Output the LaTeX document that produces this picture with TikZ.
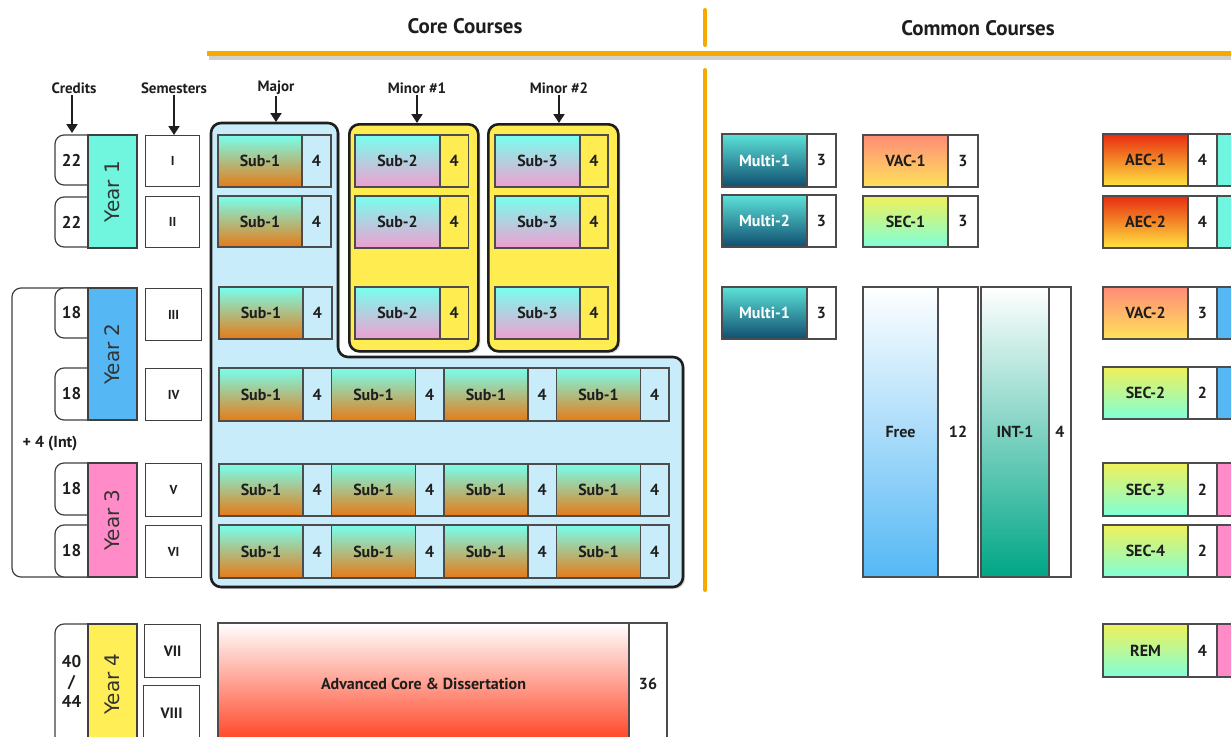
\documentclass[tikz,border=0pt]{standalone}
\usepackage{fontspec}
\setmainfont{PT Sans}
\newfontfamily\yearfont{DejaVu Sans}
\usetikzlibrary{arrows.meta,shadows}
\definecolor{orl}{RGB}{246,170,0}
\definecolor{majbg}{RGB}{200,236,250}
\definecolor{minbg}{RGB}{255,236,80}
\definecolor{cyT}{RGB}{120,255,238}
\definecolor{orM}{RGB}{170,160,120}
\definecolor{orB}{RGB}{230,122,22}
\definecolor{pkB}{RGB}{240,158,208}
\definecolor{yrone}{RGB}{112,245,222}
\definecolor{yrtwo}{RGB}{85,184,245}
\definecolor{yrthree}{RGB}{255,140,200}
\definecolor{yrfour}{RGB}{255,238,85}
\definecolor{muT}{RGB}{92,226,216}
\definecolor{muB}{RGB}{16,78,112}
\definecolor{vaT}{RGB}{255,140,120}
\definecolor{vaB}{RGB}{255,226,90}
\definecolor{seT}{RGB}{240,240,90}
\definecolor{seB}{RGB}{128,255,216}
\definecolor{aeT}{RGB}{232,44,16}
\definecolor{aeB}{RGB}{255,228,64}
\definecolor{frB}{RGB}{85,184,245}
\definecolor{inB}{RGB}{0,166,134}
\definecolor{adB}{RGB}{255,62,30}
\definecolor{ink}{RGB}{30,30,30}
\newcommand\mkcell[9]{%
  \node[cellbox,#7,minimum width=#4pt,minimum height=#6pt,anchor=north west] (#1) at (#2,#3) {#8};
  \node[cellbox,#7n,minimum width=#5pt,minimum height=#6pt,anchor=west] (#1n) at (#1.east) {#9};}
\begin{document}
\begin{tikzpicture}[x=1pt,y=-1pt,
  title/.style={font=\bfseries\fontsize{21}{21}\selectfont,text=ink},
  hdr/.style={font=\bfseries\fontsize{15}{15}\selectfont,text=ink,inner sep=1pt},
  harr/.style={line width=2pt,draw=ink,-{Triangle[width=11pt,length=9pt]}},
  cellbox/.style={draw=black!70,line width=1.1pt,inner sep=0pt,outer sep=0pt,
    font=\bfseries\fontsize{16}{16}\selectfont,text=ink},
  thinb/.style={draw=black!75,line width=1.2pt},
  sembox/.style={thinb,fill=white,inner sep=0pt,anchor=north west,
    font=\bfseries\fontsize{13}{13}\selectfont,text=ink},
  yearbox/.style={thinb,rotate=90,inner sep=0pt,minimum height=49pt,
    font=\yearfont\fontsize{20}{20}\selectfont,text=black!80},
  credtxt/.style={font=\bfseries\fontsize{17}{17}\selectfont,text=ink,inner sep=0pt},
  shad/.style={drop shadow={shadow xshift=2pt,shadow yshift=-2pt,opacity=.3}},
  maj/.style={top color=cyT,middle color=orM,bottom color=orB}, majn/.style={fill=majbg},
  minr/.style={top color=cyT,bottom color=pkB}, minrn/.style={fill=minbg},
  mul/.style={top color=muT,bottom color=muB,text=white}, muln/.style={fill=white},
  vacc/.style={top color=vaT,bottom color=vaB}, vaccn/.style={fill=white},
  secc/.style={top color=seT,bottom color=seB}, seccn/.style={fill=white},
  aecc/.style={top color=aeT,bottom color=aeB}, aeccn/.style={fill=white},
  freec/.style={top color=white,bottom color=frB}, freecn/.style={fill=white},
  intc/.style={top color=white,bottom color=inB}, intcn/.style={fill=white},
  advc/.style={top color=white,middle color=adB!45,bottom color=adB}, advcn/.style={fill=white},
  strip/.style={cellbox,minimum width=30pt,anchor=west}
]
\useasboundingbox (0,0) rectangle (1231,736);
\clip (0,0) rectangle (1231,736);
\fill[white] (0,0) rectangle (1231,736);

% ---- orange dividers
\draw[black!30,line width=4pt,opacity=.6] (209,57.5) -- (1240,57.5);
\draw[orl,line width=5pt] (207,53) -- (1240,53);
\draw[orl,line width=4pt,line cap=round] (705,10) -- (705,45);
\draw[orl,line width=4pt,line cap=round] (705,70) -- (705,590);

\node[title] (core) at (465,26) {Core Courses};
\node[title] (common) at (978,28) {Common Courses};

% ---- column labels
\node[hdr] (credits) at (74,88) {Credits};
\node[hdr] (semesters) at (174,88) {Semesters};
\node[hdr] (major) at (276,88) {Major};
\node[hdr] (minorA) at (417,88) {Minor \#1};
\node[hdr] (minorB) at (559,88) {Minor \#2};

% ---- bracket for years 2-3
\draw[thinb,fill=white,rounded corners=9pt] (90,288) -- (12,288) -- (12,577) -- (90,577);
\node[font=\bfseries\fontsize{16}{16}\selectfont,text=ink,fill=white,inner sep=1pt] (plusint) at (50,444) {+ 4 (Int)};

% ---- credit boxes
\foreach \nm/\ya/\yb/\tx in {cra/135/185/22, crb/197/247/22, crc/288/338/18, crd/368/420/18, cre/463/515/18, crf/525/577/18}{
  \draw[thinb,fill=white,rounded corners=9pt] (100,\ya) -- (55,\ya) -- (55,\yb) -- (100,\yb) -- cycle;
  \node[credtxt] (\nm) at (71.5,{(\ya+\yb)/2}) {\tx};
}
\draw[thinb,fill=white,rounded corners=9pt] (100,624) -- (55,624) -- (55,760) -- (100,760) -- cycle;
\node[credtxt,align=center,font=\bfseries\fontsize{17}{20}\selectfont] (crg) at (71.5,681) {40\\/\\44};
\coordinate (crtop) at (72,133);

% ---- year boxes
\node[yearbox,fill=yrone,minimum width=113pt] (yone) at (112.5,191.5) {Year 1};
\node[yearbox,fill=yrtwo,minimum width=132pt] (ytwo) at (112.5,354) {Year 2};
\node[yearbox,fill=yrthree,minimum width=114pt] (ythree) at (112.5,520) {Year 3};
\node[yearbox,fill=yrfour,minimum width=120pt] (yfour) at (112.5,684) {Year 4};

% ---- semester boxes
\node[sembox,minimum width=54pt,minimum height=51pt] (sa) at (145,135) {I};
\node[sembox,minimum width=54pt,minimum height=51pt] (sb) at (145,196) {II};
\node[sembox,minimum width=56pt,minimum height=52pt] (sc) at (145,288) {III};
\node[sembox,minimum width=56pt,minimum height=52pt] (sd) at (145,368) {IV};
\node[sembox,minimum width=56pt,minimum height=53pt] (se) at (145,463) {V};
\node[sembox,minimum width=56pt,minimum height=52pt] (sf) at (145,525) {VI};
\node[sembox,minimum width=56pt,minimum height=53pt,font=\bfseries\fontsize{15}{15}\selectfont] (sg) at (144,624) {VII};
\node[sembox,minimum width=56pt,minimum height=56pt,font=\bfseries\fontsize{15}{15}\selectfont] (sh) at (143,685) {VIII};

% ---- major block
\draw[shad,draw=ink,line width=2.6pt,fill=majbg,rounded corners=10pt]
  (211,123) -- (338,123) -- (338,357) -- (683,357) -- (683,587) -- (211,587) -- cycle;
\coordinate (majtop) at (276,122);

% ---- minor blocks
\node[shad,draw=ink,line width=2.6pt,fill=minbg,rounded corners=10pt,minimum width=129pt,minimum height=227pt,anchor=north west,inner sep=0pt] (mnA) at (348,123) {};
\node[shad,draw=ink,line width=2.6pt,fill=minbg,rounded corners=10pt,minimum width=130pt,minimum height=227pt,anchor=north west,inner sep=0pt] (mnB) at (487,123) {};

% ---- header arrows
\draw[harr] (credits.south -| crtop) -- (crtop);
\draw[harr] (semesters.south) -- (semesters.south |- sa.north);
\draw[harr] (major.south) -- (majtop);
\draw[harr] (minorA.south) -- (minorA.south |- mnA.north);
\draw[harr] (minorB.south) -- (minorB.south |- mnB.north);

% ---- major cells
\mkcell{ma}{218}{135}{84}{29}{52}{maj}{Sub-1}{4}
\mkcell{mb}{218}{196}{84}{29}{51}{maj}{Sub-1}{4}
\mkcell{mc}{219}{287}{84}{29}{52}{maj}{Sub-1}{4}
\foreach \i/\xx in {a/219,b/331.5,c/444,d/556.5}{
  \mkcell{md\i}{\xx}{368}{84}{28.5}{53}{maj}{Sub-1}{4}
  \mkcell{me\i}{\xx}{464}{84}{28.5}{52}{maj}{Sub-1}{4}
  \mkcell{mf\i}{\xx}{525}{84}{28.5}{53}{maj}{Sub-1}{4}
}

% ---- minor cells
\foreach \r/\yy in {a/135,b/196,c/287}{
  \mkcell{na\r}{355}{\yy}{85}{28.5}{52}{minr}{Sub-2}{4}
  \mkcell{nb\r}{495}{\yy}{85}{28}{52}{minr}{Sub-3}{4}
}

% ---- advanced core
\mkcell{adv}{218}{623}{411}{38}{122}{advc}{Advanced Core \& Dissertation}{36}

% ---- common courses
\mkcell{mua}{722}{134}{85}{29}{53}{mul}{Multi-1}{3}
\mkcell{mub}{722}{195}{85}{29}{52}{mul}{Multi-2}{3}
\mkcell{muc}{722}{287}{85}{29}{52}{mul}{Multi-1}{3}
\mkcell{vaa}{863}{135}{85}{30}{52}{vacc}{VAC-1}{3}
\mkcell{sea}{863}{196}{85}{30}{51}{secc}{SEC-1}{3}
\mkcell{free}{863}{287}{75}{40}{290}{freec}{Free}{12}
\mkcell{intone}{981}{287}{68}{22}{290}{intc}{INT-1}{4}

\mkcell{aea}{1103}{134}{85}{29}{52}{aecc}{AEC-1}{4}
\mkcell{aeb}{1103}{196}{85}{29}{52}{aecc}{AEC-2}{4}
\mkcell{vab}{1103}{287}{85}{29}{52}{vacc}{VAC-2}{3}
\mkcell{seb}{1103}{367}{85}{29}{52}{secc}{SEC-2}{2}
\mkcell{sec}{1103}{463}{85}{29}{53}{secc}{SEC-3}{2}
\mkcell{sed}{1103}{525}{85}{29}{52}{secc}{SEC-4}{2}
\mkcell{rem}{1103}{624}{85}{29}{53}{secc}{REM}{4}

\node[strip,fill=yrone,minimum height=52pt] (aeas) at (aean.east) {};
\node[strip,fill=yrone,minimum height=52pt] (aebs) at (aebn.east) {};
\node[strip,fill=yrtwo,minimum height=52pt] (vabs) at (vabn.east) {};
\node[strip,fill=yrtwo,minimum height=52pt] (sebs) at (sebn.east) {};
\node[strip,fill=yrthree,minimum height=53pt] (secs) at (secn.east) {};
\node[strip,fill=yrthree,minimum height=52pt] (seds) at (sedn.east) {};
\node[strip,fill=yrthree,minimum height=53pt] (rems) at (remn.east) {};
\end{tikzpicture}
\end{document}
